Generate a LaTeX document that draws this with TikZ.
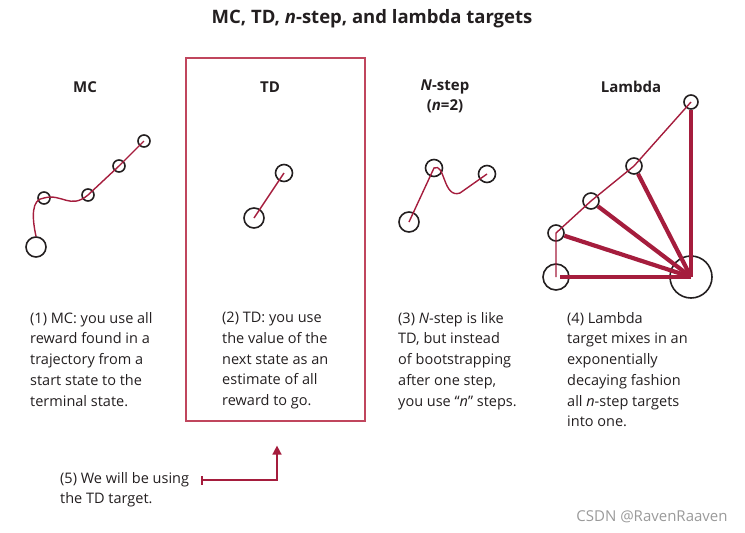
\documentclass[tikz,border=0pt]{standalone}
\usepackage{fontspec}
\setmainfont{Open Sans}
\usetikzlibrary{arrows.meta,positioning,calc}
\definecolor{tgInk}  {HTML}{231F20}
\definecolor{tgRed}  {HTML}{A51D3D}
\definecolor{tgBox}  {HTML}{C0465D}
\definecolor{tgMark} {HTML}{9A9A9A}

\begin{document}
\begin{tikzpicture}[x=1pt,y=-1pt,
    st/.style={circle,draw=tgInk,line width=1.6pt,inner sep=0,minimum size=#1},
    st/.default=12pt,
    trail/.style={tgRed,line width=1.4pt},
    heavy/.style={tgRed,line width=4.2pt},
    head/.style={font=\fontsize{15}{18}\selectfont\bfseries,text=tgInk,inner sep=0},
    note/.style={anchor=north west,inner sep=0,align=left,text=tgInk,
      font=\fontsize{14.5}{20.7}\selectfont}]
  \useasboundingbox (0,0) rectangle (745,533);

  % title and column heads
  \node[font=\fontsize{18.5}{22}\selectfont\bfseries,text=tgInk] (title) at (372,19)
    {MC, TD, \textit{n}-step, and lambda targets};
  \node[head] (hmc) at (85,87) {MC};
  \node[head] (htd) at (270,87) {TD};
  \node[head] (hns) at (445,87) {\textit{N}-step};
  \node[head,below=5pt of hns] (hnn) {(\textit{n}=2)};
  \node[head] (hla) at (631,87) {Lambda};

  % TD frame
  \node[draw=tgBox,line width=1.2pt,minimum width=179pt,minimum height=363pt,inner sep=0]
    (tdbox) at (275.5,239.5) {};

  % MC
  \node[st=20pt] (mc1) at (36,247) {};
  \node[st] (mc2) at (44,198) {};
  \node[st] (mc3) at (88,195) {};
  \node[st] (mc4) at (119,166) {};
  \node[st] (mc5) at (144,141) {};
  \draw[trail] (mc1.north) .. controls (32,218) and (31,199) .. (mc2.center)
    .. controls (62,193) and (70,210) .. (mc3.center) -- (mc4.center) -- (mc5.center);

  % TD
  \node[st=20pt] (td1) at (254,218) {};
  \node[st=17pt] (td2) at (284,173) {};
  \draw[trail] (td1.center) -- (td2.center);

  % N-step
  \node[st=20pt] (ns1) at (409,222) {};
  \node[st=17pt] (ns2) at (434,168) {};
  \node[st=17pt] (ns3) at (487,174) {};
  \draw[trail] (ns1.center) -- (ns2.center)
    .. controls (445,162) and (443,199) .. (460,193) -- (ns3.center);

  % Lambda
  \node[st=42pt] (lbig) at (691,277) {};
  \node[st=26pt] (l0) at (556,277) {};
  \node[st=16pt] (l1) at (556,233) {};
  \node[st=16pt] (l2) at (591,201) {};
  \node[st=16pt] (l3) at (634,166) {};
  \node[st=14pt] (l4) at (691,102) {};
  \draw[trail] (l0.center) -- (l1.center) -- (l2.center) -- (l3.center) -- (l4.center);
  \draw[heavy] (lbig.center) -- ([xshift=4pt]l0.center);
  \foreach \k in {1,...,4}
    \draw[heavy] (lbig.center) -- (l\k);

  % captions
  \node[note] (c1) at (30,312) {(1) MC: you use all\\reward found in a\\trajectory from a\\start state to the\\terminal state.};
  \node[note] (c2) at (222,312) {(2) TD: you use\\the value of the\\next state as an\\estimate of all\\reward to go.};
  \node[note] (c3) at (398,312) {(3) \textit{N}-step is like\\TD, but instead\\of bootstrapping\\after one step,\\you use “\textit{n}” steps.};
  \node[note] (c4) at (567,312) {(4) Lambda\\target mixes in an\\exponentially\\decaying fashion\\all \textit{n}-step targets\\into one.};

  % pointer to TD
  \node[note] (c5) at (60,472) {(5) We will be using\\the TD target.};
  \coordinate (bar) at (201,480);
  \coordinate (tip) at ([xshift=1.5pt,yshift=-24pt]tdbox.south);
  \draw[tgRed,line width=1.6pt,{Bar[width=9pt]}-{Triangle[width=9pt,length=9pt]}]
    (bar) -| (tip);

  \node[text=tgMark,font=\fontsize{15}{18}\selectfont] (mark) at (652,517) {CSDN @RavenRaaven};
\end{tikzpicture}
\end{document}
